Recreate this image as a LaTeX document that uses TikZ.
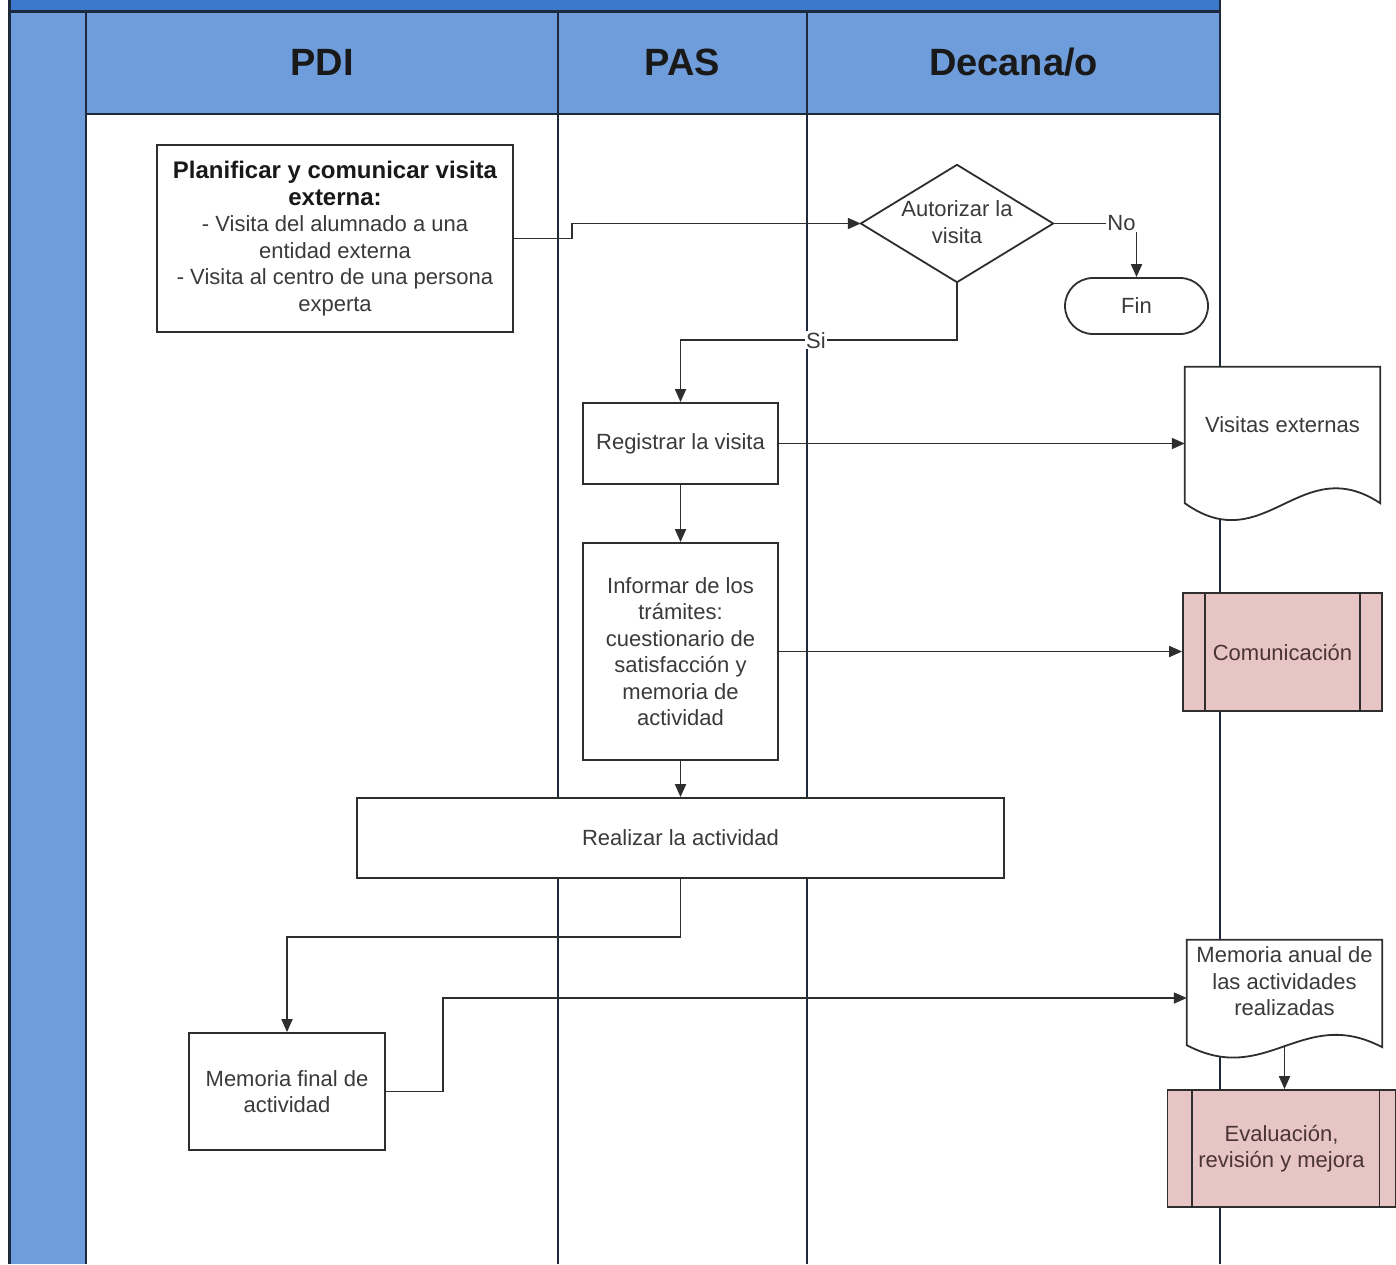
\documentclass[tikz,border=0pt]{standalone}
\usepackage{fontspec}
\setmainfont{Liberation Sans}
\usetikzlibrary{arrows.meta}
\definecolor{topbar}{HTML}{3B78CC}
\definecolor{hdr}{HTML}{6F9CDA}
\definecolor{edge}{HTML}{1C2A3C}
\definecolor{pinkf}{HTML}{E8C5C5}
\definecolor{txt}{HTML}{3A3A3A}
\definecolor{ptxt}{HTML}{4A3434}
\definecolor{bord}{HTML}{2E2E2E}
\tikzset{
  body/.style={font=\fontsize{22}{26.5}\selectfont, text=txt, align=center},
  box/.style={body, draw=bord, line width=1.8pt, fill=white, inner sep=0pt},
  ghost/.style={draw=none, inner sep=0pt},
  pbox/.style={body, draw=bord, line width=1.8pt, fill=pinkf, text=ptxt, inner sep=0pt},
  conn/.style={draw=bord, line width=1.8pt},
  arr/.style={conn, -{Triangle[length=13pt,width=11pt]}},
  lbl/.style={body, fill=white, inner sep=1pt},
  hdrtext/.style={font=\fontsize{38}{42}\selectfont\bfseries, text=black!90},
  lane/.style={draw=edge, line width=2pt}
}
\begin{document}
\begin{tikzpicture}[x=1pt,y=-1pt]
\useasboundingbox (0,0) rectangle (1396,1264);
% swimlane frame
\fill[topbar] (8,0) rectangle (1220,11);
\fill[hdr] (8,11) rectangle (86,1264);
\fill[hdr] (86,11) rectangle (1220,114);
\draw[edge, line width=3pt] (8,11) -- (1220,11);
\draw[edge, line width=2.5pt] (86,114) -- (1220,114);
\draw[edge, line width=3pt] (9.5,0) -- (9.5,1264);
\draw[lane] (86,11) -- (86,1264);
\draw[lane] (558,11) -- (558,1264);
\draw[lane] (807,11) -- (807,1264);
\draw[lane] (1220,0) -- (1220,1264);
% headers
\node[hdrtext] (hpdi) at (322,62) {PDI};
\node[hdrtext] (hpas) at (682.5,62) {PAS};
\node[hdrtext] (hdec) at (1013.5,62) {Decana/o};
% nodes
\node[box, minimum width=356, minimum height=187] (plan) at (335,238.5)
  {{\fontsize{24}{27}\selectfont\bfseries\color{black!90}Planificar y comunicar visita}\\{\fontsize{24}{27}\selectfont\bfseries\color{black!90}externa:}\\- Visita del alumnado a una\\entidad externa\\- Visita al centro de una persona\\experta};
\node[ghost, minimum width=192, minimum height=117] (dia) at (957,223.5) {};
\draw[conn, fill=white] (dia.west) -- (dia.north) -- (dia.east) -- (dia.south) -- cycle;
\node[body] (diat) at (957,222) {Autorizar la\\visita};
\node[box, minimum width=143, minimum height=56, rounded corners=28pt] (fin) at (1136.5,306) {Fin};
\node[box, minimum width=195, minimum height=81] (reg) at (680.5,443.5) {Registrar la visita};
\node[box, minimum width=195, minimum height=217] (inf) at (680.5,651.5)
  {Informar de los\\trámites:\\cuestionario de\\satisfacción y\\memoria de\\actividad};
\node[box, minimum width=647, minimum height=80] (real) at (680.5,838) {Realizar la actividad};
\node[box, minimum width=196, minimum height=117] (memf) at (287,1091.5) {Memoria final de\\actividad};
% documents
\node[ghost, minimum width=195, minimum height=136] (doc1) at (1282.5,435) {};
\draw[conn, fill=white] (doc1.south west) -- (doc1.north west) -- (doc1.north east) -- (doc1.south east)
  .. controls +(-80,-53) and +(80,57) .. (doc1.south west) -- cycle;
\node[body] (doc1t) at (1282.5,425) {Visitas externas};
\node[ghost, minimum width=195, minimum height=105] (mema) at (1284.5,992.5) {};
\draw[conn, fill=white] (mema.south west) -- (mema.north west) -- (mema.north east) -- ([yshift=-2pt]mema.south east)
  .. controls +(-80,-42) and +(80,42) .. (mema.south west) -- cycle;
\node[body] (memat) at (1284.5,981.5) {Memoria anual de\\las actividades\\realizadas};
% predefined processes
\node[pbox, minimum width=199, minimum height=118] (com) at (1282.5,652) {Comunicación};
\draw[conn] ([xshift=23pt]com.north west) -- ([xshift=23pt]com.south west);
\draw[conn] ([xshift=-23pt]com.north east) -- ([xshift=-23pt]com.south east);
\node[pbox, minimum width=228, minimum height=117] (eva) at (1281.5,1148.5) {Evaluación,\\revisión y mejora};
\draw[conn] ([xshift=25pt]eva.north west) -- ([xshift=25pt]eva.south west);
\draw[conn] ([xshift=-17pt]eva.north east) -- ([xshift=-17pt]eva.south east);
% connectors
\draw[arr] (plan.east) -- ++(58,0) |- (dia.west);
\draw[arr] (dia.east) -| node[lbl, pos=0.41] {No} (fin.north);
\draw[arr] (dia.south) -- ++(0,58) -| node[lbl, pos=0.255] {Si} (reg.north);
\draw[arr] (reg.east) -- (reg.east -| doc1.west);
\draw[arr] (reg.south) -- (inf.north);
\draw[arr] (inf.east) -- (inf.east -| com.west);
\draw[arr] (inf.south) -- (real.north);
\draw[arr] (real.south) -- ++(0,58) -| (memf.north);
\draw[arr] (memf.east) -- ++(57,0) |- ([yshift=-5.5pt]mema.west);
\draw[arr] (mema.south) -- (mema.south |- eva.north);
\end{tikzpicture}
\end{document}
